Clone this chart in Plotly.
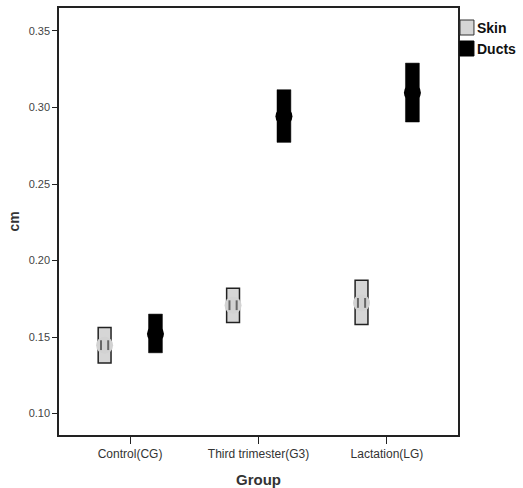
import plotly.graph_objects as go

groups = ["Control(CG)", "Third trimester(G3)", "Lactation(LG)"]
skin_mean = [0.1447, 0.1708, 0.1723]
skin_low = [0.1330, 0.1595, 0.1582]
skin_high = [0.1563, 0.1819, 0.1871]
ducts_mean = [0.1521, 0.2942, 0.3097]
ducts_low = [0.1397, 0.2772, 0.2905]
ducts_high = [0.1650, 0.3116, 0.3290]
y_ticks = [0.10, 0.15, 0.20, 0.25, 0.30, 0.35]

idx = list(range(len(groups)))
off = 0.198
xs = [i - off for i in idx]
xd = [i + off for i in idx]
notch = 0.028

fig = go.Figure()
fig.add_trace(go.Bar(x=xs, y=[h - l for h, l in zip(skin_high, skin_low)], base=skin_low,
                     width=0.10, marker=dict(color="#d6d6d6", line=dict(color="#222222", width=1.5)),
                     name="Skin", showlegend=False))
fig.add_trace(go.Bar(x=xd, y=[h - l for h, l in zip(ducts_high, ducts_low)], base=ducts_low,
                     width=0.108, marker=dict(color="#000000", line=dict(color="#000000", width=0.5)),
                     name="Ducts", showlegend=False))
# skin mean markers
fig.add_trace(go.Scatter(x=xs, y=skin_mean, mode="markers",
                         marker=dict(symbol="circle", size=17, color="#d2d2d2",
                                     line=dict(width=0)), showlegend=False, hoverinfo="skip"))
fig.add_trace(go.Scatter(x=[v - notch for v in xs] + [v + notch for v in xs], y=skin_mean + skin_mean,
                         mode="markers",
                         marker=dict(symbol="line-ns", size=7, color="#555555",
                                     line=dict(width=2, color="#666666")), showlegend=False, hoverinfo="skip"))
fig.add_trace(go.Scatter(x=xd, y=ducts_mean, mode="markers",
                         marker=dict(symbol="circle", size=17, color="#000000"),
                         showlegend=False, hoverinfo="skip"))

fig.update_layout(
    width=523, height=488,
    margin=dict(l=59, r=65, t=8, b=53),
    paper_bgcolor="white", plot_bgcolor="white",
    font=dict(family="Liberation Sans, Arial", color="#333333", size=11),
    barmode="overlay",
    showlegend=False,
    xaxis=dict(range=[-0.553, 2.553], tickvals=idx, ticktext=groups, showgrid=False,
               zeroline=False, showline=True, linecolor="#222222", linewidth=1.5, mirror=True,
               ticks="outside", ticklen=7, tickcolor="#222222", tickwidth=1.2, automargin=False,
               tickfont=dict(size=12, color="#333333"),
               title=dict(text="<b>Group</b>", font=dict(size=15, color="#333333"), standoff=17)),
    yaxis=dict(range=[0.086, 0.365], tickvals=y_ticks, ticktext=[f"{v:.2f}" for v in y_ticks],
               showgrid=False, zeroline=False, showline=True, linecolor="#222222", linewidth=1.5,
               mirror=True, ticks="outside", ticklen=5, tickcolor="#222222", tickwidth=1.2,
               automargin=False,
               tickfont=dict(size=11, color="#444444"),
               title=dict(text="<b>cm</b>", font=dict(size=14, color="#333333"), standoff=6)),
)

# manual legend
fig.add_shape(type="rect", xref="paper", yref="paper", x0=1.005, x1=1.04, y0=1 - 27 / 427, y1=1 - 12 / 427,
              fillcolor="#d6d6d6", line=dict(color="#333333", width=1))
fig.add_shape(type="rect", xref="paper", yref="paper", x0=1.005, x1=1.04, y0=1 - 48 / 427, y1=1 - 33 / 427,
              fillcolor="#000000", line=dict(color="#000000", width=1))
fig.add_annotation(xref="paper", yref="paper", x=1.043, y=1 - 19.5 / 427, text="<b>Skin</b>",
                   showarrow=False, xanchor="left", yanchor="middle", font=dict(size=14, color="#111111"))
fig.add_annotation(xref="paper", yref="paper", x=1.043, y=1 - 40.5 / 427, text="<b>Ducts</b>",
                   showarrow=False, xanchor="left", yanchor="middle", font=dict(size=14, color="#111111"))

fig.write_html("out.html", config={"displayModeBar": False},
               post_script="document.body.style.margin='0';")
